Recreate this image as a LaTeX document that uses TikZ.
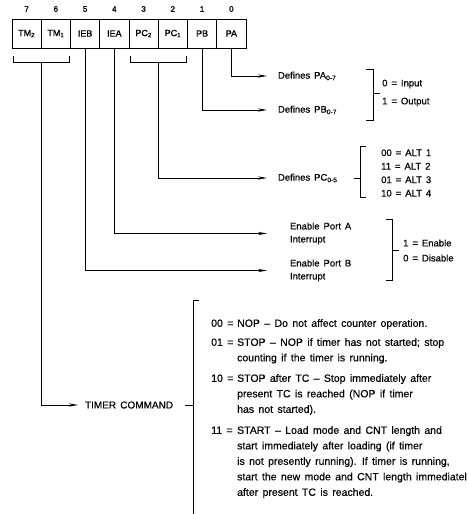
\documentclass[tikz,border=0pt]{standalone}
\usepackage{fontspec}
\setmainfont{Liberation Sans}[WordSpace=1.5, FakeBold=0.4]
\usetikzlibrary{arrows.meta,positioning}
\tikzset{regcell/.style = {draw=black, line width=0.8pt, minimum width=29.25pt, minimum height=29pt, inner sep=0pt, outer sep=0pt, font=\fontsize{9}{10}\selectfont\addfontfeature{FakeBold=1.4}}}
\tikzset{bitnum/.style = {inner sep=0pt, font=\fontsize{8}{9}\selectfont\addfontfeature{FakeBold=1.4}}}
\tikzset{desc/.style = {anchor=west, inner xsep=0pt, inner ysep=1pt, outer xsep=11pt, align=left, font=\fontsize{9.5}{13}\selectfont}}
\tikzset{choice/.style = {anchor=west, inner sep=0pt, align=left, font=\fontsize{9.5}{13.5}\selectfont}}
\tikzset{cmdtext/.style = {anchor=north west, inner sep=0pt, align=left, font=\fontsize{10.5}{15.5}\selectfont}}
\tikzset{line/.style = {line width=0.8pt}}
\tikzset{arrow/.style = {line, -{Stealth[length=9pt,width=3.2pt]}}}
\newcommand{\tcode}[1]{\makebox[26pt][l]{#1 =}}

\begin{document}
\begin{tikzpicture}[x=1pt, y=-1pt]
\useasboundingbox (0,0) rectangle (467,514);
% the control register
\node [regcell] (tm2) at (26.6,33.5) {TM\textsubscript{2}};
\node [regcell, right=0pt of tm2] (tm1) {TM\textsubscript{1}};
\node [regcell, right=0pt of tm1] (ieb) {IEB};
\node [regcell, right=0pt of ieb] (iea) {IEA};
\node [regcell, right=0pt of iea] (pc2) {PC\textsubscript{2}};
\node [regcell, right=0pt of pc2] (pc1) {PC\textsubscript{1}};
\node [regcell, right=0pt of pc1] (pb) {PB};
\node [regcell, right=0pt of pb] (pa) {PA};
% bit numbers
\node [bitnum, above=7pt of tm2] (b7) {7};
\node [bitnum, above=7pt of tm1] (b6) {6};
\node [bitnum, above=7pt of ieb] (b5) {5};
\node [bitnum, above=7pt of iea] (b4) {4};
\node [bitnum, above=7pt of pc2] (b3) {3};
\node [bitnum, above=7pt of pc1] (b2) {2};
\node [bitnum, above=7pt of pb] (b1) {1};
\node [bitnum, above=7pt of pa] (b0) {0};

% what each field does
\node [desc] (defpa) at (267,76) {Defines PA\textsubscript{0-7}};
\node [desc] (defpb) at (267,110) {Defines PB\textsubscript{0-7}};
\node [desc] (defpc) at (267,178) {Defines PC\textsubscript{0-5}};
\node [desc, outer xsep=23pt] (enablea) at (267,233.5) {Enable Port A\\Interrupt};
\node [desc, outer xsep=23pt] (enableb) at (267,270.5) {Enable Port B\\Interrupt};
\node [desc, outer xsep=7pt, font=\fontsize{10}{12}\selectfont] (timer) at (78,405) {TIMER COMMAND};

\node [choice, font=\fontsize{9.5}{18}\selectfont] (iochoice) at (382,93) {0 = Input\\1 = Output};
\node [choice] (pcchoice) at (381,173) {00 = ALT 1\\11 = ALT 2\\01 = ALT 3\\10 = ALT 4};
\node [choice, font=\fontsize{9.5}{15}\selectfont] (iechoice) at (403,250.5) {1 = Enable\\0 = Disable};

\node [cmdtext] (nop) at (211,319) {\tcode{00}NOP -- Do not affect counter operation.};
\node [cmdtext] (stop) at (211,338) {\tcode{01}STOP -- NOP if timer has not started; stop\\\hspace*{26pt}counting if the timer is running.};
\node [cmdtext] (stoptc) at (211,374) {\tcode{10}STOP after TC -- Stop immediately after\\\hspace*{26pt}present TC is reached (NOP if timer\\\hspace*{26pt}has not started).};
\node [cmdtext] (start) at (211,426) {\tcode{11}START -- Load mode and CNT length and\\\hspace*{26pt}start immediately after loading (if timer\\\hspace*{26pt}is not presently running). If timer is running,\\\hspace*{26pt}start the new mode and CNT length immediatel\\\hspace*{26pt}after present TC is reached.};

% brackets under the register
\draw [line] ([xshift=1pt,yshift=-8pt]tm2.south west) -- ([xshift=1pt,yshift=-14pt]tm2.south west) -- ([xshift=-1pt,yshift=-14pt]tm1.south east) -- ([xshift=-1pt,yshift=-8pt]tm1.south east);
\draw [line] ([xshift=1pt,yshift=-8pt]pc2.south west) -- ([xshift=1pt,yshift=-14pt]pc2.south west) -- ([xshift=-1pt,yshift=-14pt]pc1.south east) -- ([xshift=-1pt,yshift=-8pt]pc1.south east);

% connectors
\draw [arrow] (pa.south) |- (defpa);
\draw [arrow] (pb.south) |- (defpb);
\draw [arrow] ([yshift=-14pt]pc2.south east) |- (defpc);
\draw [arrow] (iea.south) |- (enablea);
\draw [arrow] (ieb.south) |- (enableb);
\draw [arrow] ([yshift=-14pt]tm2.south east) |- (timer);

% right hand brackets
\draw [line] (366,69) -- (373,69) -- (373,120) -- (366,120);
\draw [line] (373,93) -- (380,93);
\draw [line] (366,146) -- (360,146) -- (360,197) -- (366,197);
\draw [line] (354,178) -- (360,178);
\draw [line] (386,219) -- (392,219) -- (392,280) -- (386,280);
\draw [line] (392,250) -- (399,250);
\draw [line] (185,405) -- (193,405);
\draw [line] (199,300) -- (193,300) -- (193,514);
\end{tikzpicture}
\end{document}
